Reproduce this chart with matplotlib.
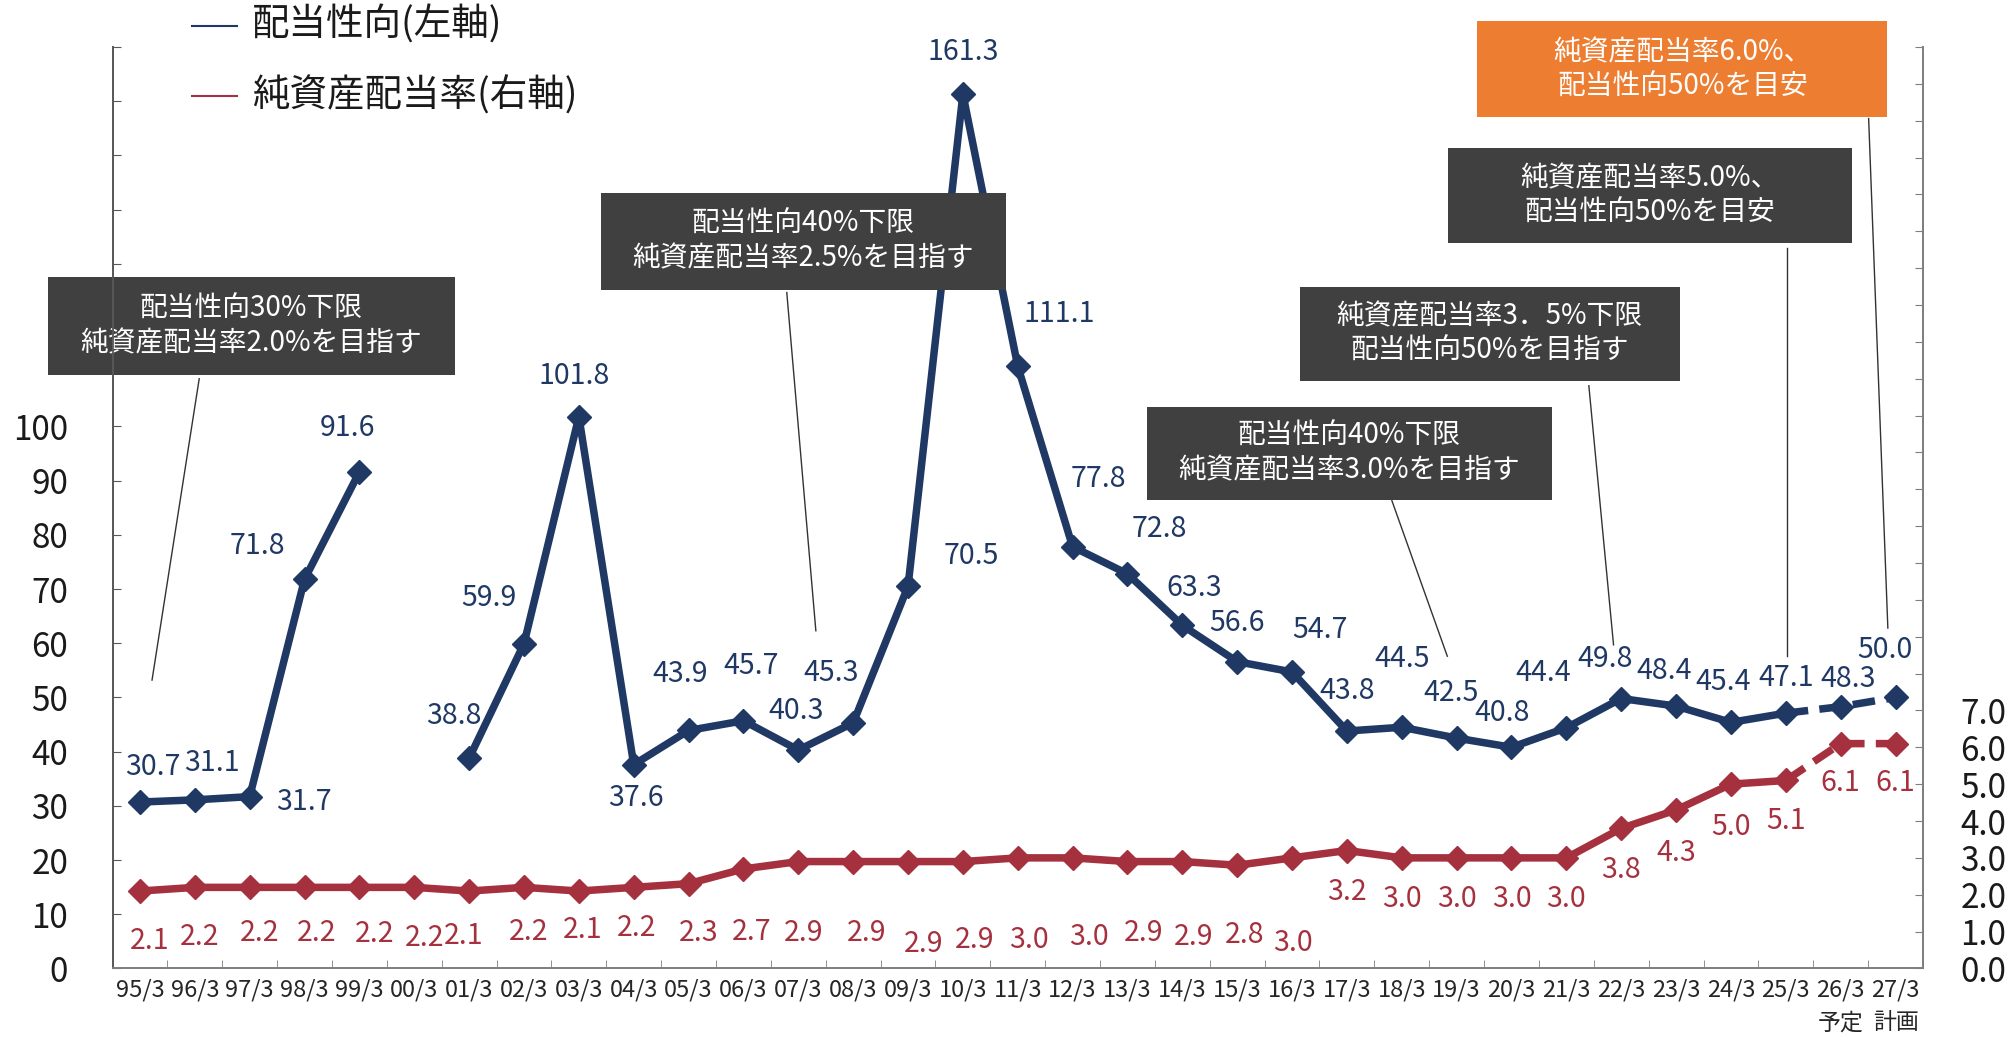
import numpy as np
import matplotlib.pyplot as plt
from matplotlib.lines import Line2D
from matplotlib.patches import Rectangle

plt.rcParams['font.family'] = ['Noto Sans CJK JP', 'DejaVu Sans']

# data
years = ['95/3', '96/3', '97/3', '98/3', '99/3', '00/3', '01/3', '02/3', '03/3', '04/3',
         '05/3', '06/3', '07/3', '08/3', '09/3', '10/3', '11/3', '12/3', '13/3', '14/3',
         '15/3', '16/3', '17/3', '18/3', '19/3', '20/3', '21/3', '22/3', '23/3', '24/3',
         '25/3', '26/3', '27/3']
payout = [30.7, 31.1, 31.7, 71.8, 91.6, np.nan, 38.8, 59.9, 101.8, 37.6,
          43.9, 45.7, 40.3, 45.3, 70.5, 161.3, 111.1, 77.8, 72.8, 63.3,
          56.6, 54.7, 43.8, 44.5, 42.5, 40.8, 44.4, 49.8, 48.4, 45.4,
          47.1, 48.3, 50.0]
doe = [2.1, 2.2, 2.2, 2.2, 2.2, 2.2, 2.1, 2.2, 2.1, 2.2,
       2.3, 2.7, 2.9, 2.9, 2.9, 2.9, 3.0, 3.0, 2.9, 2.9,
       2.8, 3.0, 3.2, 3.0, 3.0, 3.0, 3.0, 3.8, 4.3, 5.0,
       5.1, 6.1, 6.1]
last_actual = 30  # 25/3; after that forecast / plan (dashed)

# label offsets in pixels (dx, dy), layout only
blue_off = [(13, 35), (17, 37), (54, -5), (-47, 33), (-12, 44), (0, 0), (-15, 42), (-35, 46),
            (-5, 41), (2, -33), (-8, 56), (8, 55), (-2, 39), (-22, 50), (63, 30), (0, 42),
            (42, 52), (26, 68), (32, 45), (12, 37), (0, 39), (28, 42), (0, 40), (0, 68),
            (-6, 45), (-9, 34), (-23, 55), (-16, 40), (-12, 35), (-8, 40), (0, 35), (7, 28),
            (-11, 47)]
red_off = [(10, -50), (5, -50), (10, -46), (12, -46), (15, -47), (10, -51), (-5, -45), (5, -45),
           (4, -39), (3, -41), (10, -49), (8, -63), (5, -71), (13, -71), (16, -82), (12, -78),
           (11, -82), (16, -79), (16, -71), (11, -75), (7, -70), (1, -85), (0, -41), (0, -41),
           (0, -41), (0, -41), (0, -41), (0, -42), (0, -43), (0, -43), (0, -41), (0, -39),
           (0, -39)]

BLUE = '#1F3864'
RED = '#A5303E'
BOX = '#404040'
ORANGE = '#ED7D31'

fig = plt.figure(figsize=(20.06, 10.39), dpi=100)
ax = fig.add_axes([0.0561, 0.0679, 0.9025, 0.8869])
ax2 = ax.twinx()
k = fig.dpi / 72.0
x = np.arange(len(years))

# payout ratio (left axis)
ax.plot(x[:last_actual + 1], payout[:last_actual + 1], color=BLUE, lw=5.4, zorder=3)
ax.plot(x[last_actual:], payout[last_actual:], color=BLUE, lw=5.4, dashes=(3.0, 1.5), zorder=3)
ax.plot(x, payout, ls='none', marker='D', ms=12.5, color=BLUE, zorder=4)

# DOE (right axis)
ax2.plot(x[:last_actual + 1], doe[:last_actual + 1], color=RED, lw=5.4, zorder=3)
ax2.plot(x[last_actual:], doe[last_actual:], color=RED, lw=5.4, dashes=(3.0, 1.5), zorder=3)
ax2.plot(x, doe, ls='none', marker='D', ms=12.5, color=RED, zorder=4)

for i, v in enumerate(payout):
    if np.isnan(v):
        continue
    dx, dy = blue_off[i]
    ax.annotate(f'{v:.1f}', (i, v), xytext=(dx / k, dy / k), textcoords='offset points',
                ha='center', va='center', fontsize=20.5, color=BLUE)
for i, v in enumerate(doe):
    dx, dy = red_off[i]
    ax2.annotate(f'{v:.1f}', (i, v), xytext=(dx / k, dy / k), textcoords='offset points',
                 ha='center', va='center', fontsize=20.5, color=RED)

# axes
ax.set_xlim(-0.5, len(years) - 0.5)
ax.set_ylim(0, 170)
ax2.set_ylim(0, 25)
ax.set_xticks(x)
ax.set_xticklabels(years, fontsize=17, color='#262626')
ax.set_xticks(np.arange(-0.5, len(years)), minor=True)
ax.tick_params(axis='x', which='major', length=0, pad=7)
ax.tick_params(axis='x', which='minor', direction='in', length=6, color='#7f7f7f')
lt = np.arange(0, 171, 10)
ax.set_yticks(lt)
ax.set_yticklabels([str(t) if t <= 100 else '' for t in lt], fontsize=24, color='#1a1a1a')
ax.tick_params(axis='y', direction='in', length=6, color='#595959', pad=32)
rt = np.arange(0, 26, 1)
ax2.set_yticks(rt)
ax2.set_yticklabels([f'{t:.1f}' if t <= 7 else '' for t in rt], fontsize=24, color='#1a1a1a')
ax2.tick_params(axis='y', direction='in', length=6, color='#7f7f7f', pad=27)
for a in (ax, ax2):
    a.spines['top'].set_visible(False)
    a.spines['bottom'].set_color('#7f7f7f')
    a.spines['left'].set_color('#595959')
    a.spines['right'].set_color('#7f7f7f')
    a.spines['bottom'].set_linewidth(1.3)
    a.spines['left'].set_linewidth(1.3)
    a.spines['right'].set_linewidth(1.3)

ax.text(31, -0.059, '予定', transform=ax.get_xaxis_transform(), ha='center', va='center',
        fontsize=16.5, color='#262626')
ax.text(32, -0.059, '計画', transform=ax.get_xaxis_transform(), ha='center', va='center',
        fontsize=16.5, color='#262626')

# policy boxes
boxes = [
    ((-1.68, 109.5, 7.42, 18.1), '配当性向30%下限\n純資産配当率2.0%を目指す', BOX,
     ((1.08, 108.8), (0.22, 53.2))),
    ((8.40, 125.2, 7.38, 17.8), '配当性向40%下限\n純資産配当率2.5%を目指す', BOX,
     ((11.79, 124.7), (12.32, 62.3))),
    ((18.35, 86.5, 7.38, 17.1), '配当性向40%下限\n純資産配当率3.0%を目指す', BOX,
     ((22.82, 86.3), (23.83, 57.6))),
    ((21.14, 108.4, 6.93, 17.4), '純資産配当率3．5%下限\n配当性向50%を目指す', BOX,
     ((26.41, 107.5), (26.86, 59.7))),
    ((23.84, 133.8, 7.36, 17.5), '純資産配当率5.0%、\n配当性向50%を目安', BOX,
     ((30.03, 133.0), (30.03, 57.7))),
    ((24.38, 157.0, 7.47, 17.7), '純資産配当率6.0%、\n配当性向50%を目安', ORANGE,
     ((31.51, 156.8), (31.86, 62.8))),
]
for (x0, y0, w, h), txt, col, (p0, p1) in boxes:
    ax.add_line(Line2D([p0[0], p1[0]], [p0[1], p1[1]], color='#333333', lw=1.0,
                       zorder=5, clip_on=False))
    ax.add_patch(Rectangle((x0, y0), w, h, facecolor=col, edgecolor='none',
                           zorder=6, clip_on=False))
    ax.text(x0 + w / 2, y0 + h / 2, txt, ha='center', va='center', color='white',
            fontsize=20, linespacing=1.2, zorder=7, clip_on=False)

# legend
fig.add_artist(Line2D([0.0957, 0.1181], [0.9754, 0.9754], color=BLUE, lw=1.5))
fig.add_artist(Line2D([0.0957, 0.1181], [0.9076, 0.9076], color=RED, lw=1.5))
fig.text(0.1256, 0.9754, '配当性向(左軸)', ha='left', va='center', fontsize=27, color='#1a1a1a')
fig.text(0.1256, 0.9076, '純資産配当率(右軸)', ha='left', va='center', fontsize=27, color='#1a1a1a')

fig.savefig('out.png', dpi=100)
